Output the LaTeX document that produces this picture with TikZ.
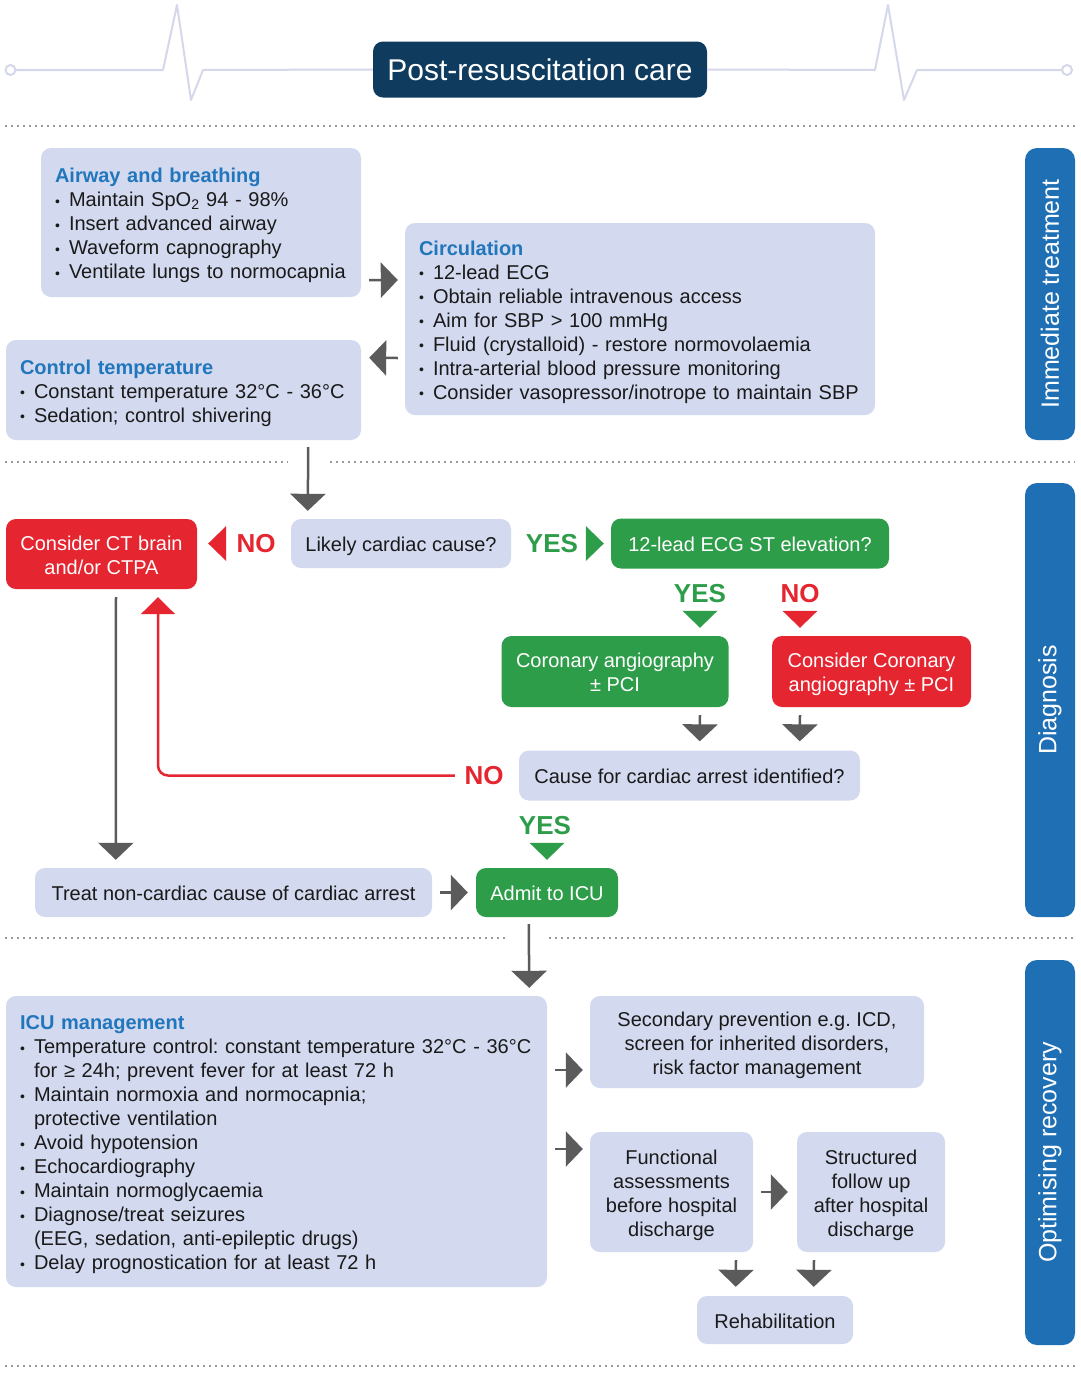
\documentclass[tikz,border=0pt]{standalone}
\usepackage{fontspec}
\setmainfont{Liberation Sans}
\usetikzlibrary{arrows.meta,calc}
\frenchspacing
\definecolor{boxfill}{HTML}{D3D9EF}
\definecolor{navy}{HTML}{0F3B5F}
\definecolor{hblue}{HTML}{2176BC}
\definecolor{sideblue}{HTML}{1F6FB5}
\definecolor{cred}{HTML}{E52530}
\definecolor{cgreen}{HTML}{2E9D4A}
\definecolor{agray}{HTML}{5B5B5B}
\definecolor{ecgc}{HTML}{D5D8EA}
\definecolor{dotgray}{HTML}{9A9A9A}
\definecolor{txt}{HTML}{1A1A1A}
\newcommand\bul{\makebox[14pt][l]{\raisebox{0.6pt}{\fontsize{14}{14}\selectfont •}}}
\newcommand\li[1]{\mbox{\bul #1}}
\newcommand\lc[1]{\mbox{\hspace*{14pt}#1}}
\newcommand\hd[1]{\mbox{\bfseries\color{hblue}#1}}
\newcommand\st{\rule{0pt}{22.4pt}}
\newcommand\sd{\rule[-6pt]{0pt}{6pt}}
\begin{document}
\begin{tikzpicture}[x=1pt,y=-1pt,
  box/.style={rounded corners=10pt, fill=boxfill, inner xsep=14pt, inner ysep=0pt, font=\fontsize{20}{24}\selectfont, text=txt},
  lbox/.style={box, align=left},
  cbox/.style={box, align=center},
  gbox/.style={cbox, fill=cgreen, text=white},
  rbox/.style={cbox, fill=cred, text=white},
  side/.style={rounded corners=12pt, fill=sideblue, text=white, font=\fontsize{25}{30}\selectfont, rotate=90, inner sep=0pt, minimum height=50pt},
  lbl/.style={font=\bfseries\fontsize{26}{30}\selectfont, inner sep=0pt},
  garrow/.style={draw=agray, line width=2.5pt, -{Triangle[length=17pt,width=35pt]}},
  redarrow/.style={draw=cred, line width=2.5pt, rounded corners=10pt, -{Triangle[length=17pt,width=34pt]}},
  dotline/.style={draw=dotgray, line width=1.6pt, dash pattern=on 1.6pt off 4.4pt},
  ecgline/.style={draw=ecgc, line width=2pt, line join=round},
]
\fill[white] (0,0) rectangle (1080,1374);
\useasboundingbox (0,0) rectangle (1080,1374);

% dotted separators
\draw[dotline] (5,126) -- (1075,126);
\draw[dotline] (5,462) -- (288,462);
\draw[dotline] (330,462) -- (1075,462);
\draw[dotline] (5,938) -- (508,938);
\draw[dotline] (549,938) -- (1075,938);
\draw[dotline] (5,1366) -- (1075,1366);

% title
\node[rounded corners=10pt, fill=navy, text=white, font=\fontsize{30}{36}\selectfont, minimum width=334pt, minimum height=56pt, inner sep=0pt] (title) at (540,69.5) {\raisebox{-1pt}{Post-resuscitation care}};
\draw[ecgline] (15.5,70) -- (163,70) -- (177,5) -- (191,100) -- (203,70) -- (title.west);
\draw[ecgline, fill=white] (10.5,70) circle (5);
\draw[ecgline] (title.east) -- (875,70) -- (888,5) -- (904,100) -- (917,70) -- (1062,70);
\draw[ecgline, fill=white] (1067,70) circle (5);

% side bars
\node[side, minimum width=292pt] (s1) at (1050,294) {Immediate treatment};
\node[side, minimum width=434pt] (s2) at (1050,700) {Diagnosis};
\node[side, minimum width=385pt] (s3) at (1050,1152.5) {Optimising recovery};

% immediate treatment
\node[lbox, text width=292pt, minimum height=149pt] (airway) at (201,222.5) {%
\st\hd{Airway and breathing}\\
\li{Maintain SpO\textsubscript{2} 94 - 98\%}\\
\li{Insert advanced airway}\\
\li{Waveform capnography}\\
\li{Ventilate lungs to normocapnia}\sd};
\node[lbox, text width=442pt, minimum height=192pt] (circ) at (640,319) {%
\st\hd{Circulation}\\
\li{12-lead ECG}\\
\li{Obtain reliable intravenous access}\\
\li{Aim for SBP > 100 mmHg}\\
\li{Fluid (crystalloid) - restore normovolaemia}\\
\li{Intra-arterial blood pressure monitoring}\\
\li{Consider vasopressor/inotrope to maintain SBP}\sd};
\node[lbox, text width=327pt, minimum height=100pt] (ctrl) at (183.5,390) {%
\st\hd{Control temperature}\\
\li{Constant temperature 32°C - 36°C}\\
\li{Sedation; control shivering}\sd};

% diagnosis
\node[rbox, minimum width=191pt, minimum height=70pt] (ct) at (101.5,554) {\st Consider CT brain\\and/or CTPA\sd};
\node[cbox, minimum width=220pt, minimum height=49pt] (likely) at (401,543.5) {\st\sd Likely cardiac cause?};
\node[gbox, minimum width=278pt, minimum height=50pt] (ecg) at (750,543.5) {\st\sd 12-lead ECG ST elevation?};
\node[gbox, minimum width=227pt, minimum height=71pt] (cor) at (615,671.5) {\st Coronary angiography\\± PCI\sd};
\node[rbox, minimum width=199pt, minimum height=71pt] (ccor) at (871.5,671.5) {\st Consider Coronary\\angiography ± PCI\sd};
\node[cbox, minimum width=341pt, minimum height=50pt] (cause) at (689.5,775.5) {\st\sd Cause for cardiac arrest identified?};
\node[cbox, minimum width=397pt, minimum height=49pt] (treat) at (233.5,892.5) {\st\sd Treat non-cardiac cause of cardiac arrest};
\node[gbox, minimum width=142pt, minimum height=49pt] (admit) at (547,892.5) {\st\sd Admit to ICU};

\node[lbl, text=cred] (no1) at (256,544) {NO};
\node[lbl, text=cgreen] (yes1) at (552,544) {YES};
\node[lbl, text=cgreen] (yes2) at (700,594) {YES};
\node[lbl, text=cred] (no2) at (800,594) {NO};
\node[lbl, text=cred] (no3) at (484,776) {NO};
\node[lbl, text=cgreen] (yes3) at (545,826) {YES};

% optimising recovery
\node[lbox, text width=513pt, minimum height=291pt] (icu) at (276.5,1141.5) {%
\st\hd{ICU management}\\
\li{Temperature control: constant temperature 32°C - 36°C}\\
\lc{for ≥ 24h; prevent fever for at least 72 h}\\
\li{Maintain normoxia and normocapnia;}\\
\lc{protective ventilation}\\
\li{Avoid hypotension}\\
\li{Echocardiography}\\
\li{Maintain normoglycaemia}\\
\li{Diagnose/treat seizures}\\
\lc{(EEG, sedation, anti-epileptic drugs)}\\
\li{Delay prognostication for at least 72 h}\sd};
\node[cbox, minimum width=334pt, minimum height=92pt] (sec) at (757,1042) {\st Secondary prevention e.g. ICD,\\screen for inherited disorders,\\risk factor management\sd};
\node[cbox, minimum width=163pt, minimum height=120pt] (func) at (671.5,1192) {\st Functional\\assessments\\before hospital\\discharge\sd};
\node[cbox, minimum width=148pt, minimum height=120pt] (struct) at (871,1192) {\st Structured\\follow up\\after hospital\\discharge\sd};
\node[cbox, minimum width=156pt, minimum height=48pt] (rehab) at (775,1320) {\st\sd Rehabilitation};

% connectors
\draw[garrow] ($(airway.south east)+(8,-17)$) -- ($(circ.west)+(-7,-39)$);
\draw[garrow] ($(circ.west)+(-7,39)$) -- ($(ctrl.north east)+(8,18)$);
\draw[garrow] ($(ctrl.south east)+(-53,7)$) -- ($(likely.north west)+(17,-8)$);

\fill[cred] ($(ct.east|-likely.west)+(11,0)$) -- ++(18,-17.5) -- ++(0,35) -- cycle;
\fill[cgreen] ($(ecg.west)+(-7,0)$) -- ++(-18,-17.5) -- ++(0,35) -- cycle;
\fill[cgreen] ($(cor.north)+(85,-8)$) -- ++(-17.5,-17) -- ++(35,0) -- cycle;
\fill[cred] ($(ccor.north)+(-71.5,-8)$) -- ++(-17.5,-17) -- ++(35,0) -- cycle;
\fill[cgreen] ($(admit.north)+(0,-8)$) -- ++(-17.5,-17) -- ++(35,0) -- cycle;

\draw[garrow] ($(cor.south)+(85,8)$) -- ($(cause.north west)+(181,-9)$);
\draw[garrow] ($(ccor.south)+(-71.5,8)$) -- ($(cause.north west)+(281,-9)$);
\draw[redarrow] ($(cause.west)+(-64,0)$) -| ($(ct.south)+(56.5,8)$);
\draw[garrow] ($(ct.south)+(14.5,8)$) -- ($(treat.north west)+(81,-8)$);
\draw[garrow] ($(treat.east)+(8,0)$) -- ($(admit.west)+(-8,0)$);
\draw[garrow] ($(admit.south west)+(53,7)$) -- ($(icu.north east)+(-18,-8)$);

\draw[garrow] ($(icu.east)+(8,-71.5)$) -- ($(sec.west)+(-7,28)$);
\draw[garrow] ($(icu.east)+(8,7.5)$) -- ($(func.west)+(-7,-43)$);
\draw[garrow] ($(func.east)+(8,0)$) -- ($(struct.west)+(-9,0)$);
\draw[garrow] ($(func.south)+(64.5,8)$) -- ($(rehab.north west)+(39,-9)$);
\draw[garrow] ($(struct.south)+(-57,8)$) -- ($(rehab.north west)+(117,-9)$);
\end{tikzpicture}
\end{document}
